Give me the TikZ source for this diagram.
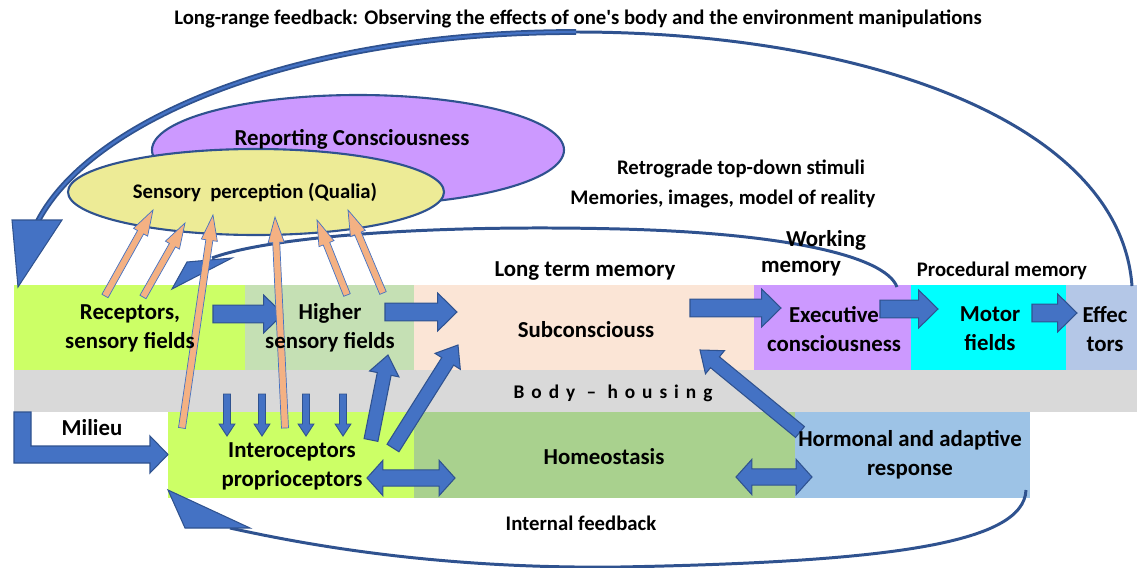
\documentclass[tikz,border=0pt]{standalone}
\usepackage{fontspec}
\setmainfont{Carlito}[Ligatures=TeXOff]
\usetikzlibrary{calc}
\definecolor{lgreen}{HTML}{CCFF66}
\definecolor{sage}{HTML}{C5E0B4}
\definecolor{peach}{HTML}{FBE5D6}
\definecolor{lpurple}{HTML}{CC99FF}
\definecolor{cyanbox}{HTML}{00FFFF}
\definecolor{effbox}{HTML}{B4C7E7}
\definecolor{bodygray}{HTML}{D9D9D9}
\definecolor{homeo}{HTML}{A9D18E}
\definecolor{hormo}{HTML}{9DC3E6}
\definecolor{qualia}{HTML}{EDEB96}
\definecolor{ablue}{HTML}{4472C4}
\definecolor{adark}{HTML}{2F528F}
\definecolor{aorange}{HTML}{F4B183}
\tikzset{
  barrow/.style n args={3}{to path={
    ($(\tikztostart)!#1!90:(\tikztotarget)$)
    -- ($(\tikztotarget)!#3!(\tikztostart)!#1!-90:(\tikztostart)$)
    -- ($(\tikztotarget)!#3!(\tikztostart)!#2!-90:(\tikztostart)$)
    -- (\tikztotarget)
    -- ($(\tikztotarget)!#3!(\tikztostart)!#2!90:(\tikztostart)$)
    -- ($(\tikztotarget)!#3!(\tikztostart)!#1!90:(\tikztostart)$)
    -- ($(\tikztostart)!#1!-90:(\tikztotarget)$)
    -- cycle}},
  dbarrow/.style n args={3}{to path={
    (\tikztostart)
    -- ($(\tikztostart)!#3!(\tikztotarget)!#2!90:(\tikztotarget)$)
    -- ($(\tikztostart)!#3!(\tikztotarget)!#1!90:(\tikztotarget)$)
    -- ($(\tikztotarget)!#3!(\tikztostart)!#1!-90:(\tikztostart)$)
    -- ($(\tikztotarget)!#3!(\tikztostart)!#2!-90:(\tikztostart)$)
    -- (\tikztotarget)
    -- ($(\tikztotarget)!#3!(\tikztostart)!#2!90:(\tikztostart)$)
    -- ($(\tikztotarget)!#3!(\tikztostart)!#1!90:(\tikztostart)$)
    -- ($(\tikztostart)!#3!(\tikztotarget)!#1!-90:(\tikztotarget)$)
    -- ($(\tikztostart)!#3!(\tikztotarget)!#2!-90:(\tikztotarget)$)
    -- cycle}},
  blk/.style={fill=ablue, draw=adark, line width=0.6pt},
  org/.style={fill=aorange, draw=ablue, line width=0.4pt},
  fb/.style={draw=adark, line width=1.7pt},
  fbhead/.style={fill=ablue, draw=adark, line width=0.6pt},
  lbl/.style={font=\bfseries\fontsize{13}{16.5}\selectfont, align=center, inner sep=0pt},
  slbl/.style={font=\bfseries\fontsize{11.8}{14}\selectfont, align=center, inner sep=0pt},
  hb/.style={barrow={5.1pt}{10.8pt}{11pt}},
  ub/.style={barrow={4pt}{8.5pt}{11pt}},
  db/.style={barrow={2pt}{4.5pt}{6.8pt}},
  ob/.style={barrow={2pt}{4.6pt}{14.5pt}},
  hdb/.style={dbarrow={4.6pt}{10pt}{9pt}}
}
\begin{document}
\begin{tikzpicture}[x=0.02cm, y=-0.02cm]
\useasboundingbox (0,0) rectangle (1137,568);
% boxes
\fill[lgreen] (14,285) rectangle (245,370);
\fill[sage] (245,285) rectangle (414,370);
\fill[peach] (414,285) rectangle (754,370);
\fill[lpurple] (754,285) rectangle (911,370);
\fill[cyanbox] (911,285) rectangle (1066,370);
\fill[effbox] (1066,285) rectangle (1137,370);
\fill[bodygray] (14,370) rectangle (1137,412);
\fill[lgreen] (168,412) rectangle (414,498);
\fill[homeo] (414,412) rectangle (795,498);
\fill[hormo] (795,412) rectangle (1030,498);
% ellipses
\draw[fill=lpurple, draw=adark, line width=1.2pt] (358,150) ellipse [x radius=206, y radius=55];
\draw[fill=qualia, draw=adark, line width=1.2pt] (256,192) ellipse [x radius=188, y radius=43];
% long-range feedback
\coordinate (lrS) at (1132,286);
\coordinate (lrTop) at (576,32);
\coordinate (lrE) at (38,221);
\draw[fb] (lrS) .. controls (1120,120) and (860,32) .. (lrTop);
\draw[draw=adark, line width=1pt, double=ablue, double distance=1.3pt] (lrTop) .. controls (300,32) and (92,118) .. (lrE);
\draw[fbhead] (12,220) -- (62,220) -- (18,287) -- cycle;
% retrograde
\coordinate (rtS) at (897,287);
\coordinate (rtM) at (620,229);
\coordinate (rtE) at (212,258);
\draw[fb] (rtS) .. controls (885,255) and (780,233) .. (rtM) .. controls (420,224) and (265,238) .. (rtE);
\draw[fbhead] (187,262) -- (232,258) -- (172,289) -- cycle;
% internal feedback
\coordinate (ifS) at (1026,490);
\coordinate (ifM) at (620,567);
\coordinate (ifE) at (230,528);
\draw[fb] (ifS) .. controls (1024,545) and (880,562) .. (ifM) .. controls (450,569) and (320,548) .. (ifE);
\draw[fbhead] (185,528) -- (250,528) -- (168,490) -- cycle;
% milieu bent arrow
\draw[blk] (14,412) -- (31,412) -- (31,446) -- (150,446) -- (150,436) -- (168,454.5) -- (150,473) -- (150,463) -- (14,463) -- cycle;
% horizontal block arrows
\coordinate (a1s) at (213,314); \coordinate (a1t) at (283,314);
\coordinate (a2s) at (385,312); \coordinate (a2t) at (457,312);
\coordinate (a3s) at (690,308); \coordinate (a3t) at (781,308);
\coordinate (a4s) at (880,309); \coordinate (a4t) at (938,309);
\coordinate (a5s) at (1032,313); \coordinate (a5t) at (1077,313);
\draw[blk] (a1s) to[hb] (a1t);
\draw[blk] (a2s) to[hb] (a2t);
\draw[blk] (a3s) to[hb] (a3t);
\draw[blk] (a4s) to[hb] (a4t);
\draw[blk] (a5s) to[hb] (a5t);
% up arrows
\coordinate (u1s) at (371,440); \coordinate (u1t) at (388,355);
\coordinate (u2s) at (393,448); \coordinate (u2t) at (458,345);
\coordinate (u3s) at (800,432); \coordinate (u3t) at (700,350);
\draw[blk] (u1s) to[ub] (u1t);
\draw[blk] (u2s) to[ub] (u2t);
\draw[blk] (u3s) to[ub] (u3t);
% small down arrows
\foreach \i/\x in {1/227,2/262,3/306,4/343}{
  \coordinate (d\i s) at (\x,394); \coordinate (d\i t) at (\x,436);
  \draw[blk, line width=0.5pt] (d\i s) to[db] (d\i t);
}
% double arrows
\coordinate (h1s) at (367,478); \coordinate (h1t) at (455,478);
\coordinate (h2s) at (736,477); \coordinate (h2t) at (812,477);
\draw[blk] (h1s) to[hdb] (h1t);
\draw[blk] (h2s) to[hdb] (h2t);
% orange arrows
\coordinate (o1s) at (105,296); \coordinate (o1t) at (153,210);
\coordinate (o2s) at (143,297); \coordinate (o2t) at (185,223);
\coordinate (o3s) at (182,428); \coordinate (o3t) at (213,215);
\coordinate (o4s) at (285,428); \coordinate (o4t) at (275,217);
\coordinate (o5s) at (347,295); \coordinate (o5t) at (317,220);
\coordinate (o6s) at (383,293); \coordinate (o6t) at (348,210);
\foreach \i in {1,...,6}{\draw[org] (o\i s) to[ob] (o\i t);}
% labels
\node[slbl] (title) at (578,19) {Long-range feedback: Observing the effects of one's body and the environment manipulations};
\node[lbl] (rep) at (352,139) {Reporting Consciousness};
\node[slbl] (qual) at (255,192) {Sensory\ \ perception (Qualia)};
\node[slbl] (retro) at (741,169) {Retrograde top-down stimuli};
\node[slbl] (mem) at (723,199) {Memories, images, model of reality};
\node[lbl] (wm1) at (826,240) {Working};
\node[lbl] (wm2) at (801,269) {memory};
\node[lbl] (ltm) at (585,271) {Long term memory};
\node[slbl] (proc) at (1002,271) {Procedural memory};
\node[lbl] (rec) at (130,328) {Receptors,\\sensory fields};
\node[lbl] (hsf) at (330,328) {Higher\\sensory fields};
\node[lbl] (sub) at (586,330) {Subconsciouss};
\node[lbl] (exe) at (834,329) {Executive\\consciousness};
\node[lbl] (mot) at (990,329) {Motor\\fields};
\node[lbl] (eff) at (1105,329) {Effec\\tors};
\node[font=\bfseries\fontsize{11}{14}\selectfont, inner sep=0pt] (body) at (613,393) {\addfontfeature{LetterSpace=36}Body – housing};
\node[lbl] (mil) at (92,428) {Milieu};
\node[lbl] (int) at (292,466) {Interoceptors\\proprioceptors};
\node[lbl] (hom) at (604,457) {Homeostasis};
\node[lbl] (hor) at (910,455) {Hormonal and adaptive\\response};
\node[slbl] (ifb) at (581,523) {Internal feedback};
\end{tikzpicture}
\end{document}
